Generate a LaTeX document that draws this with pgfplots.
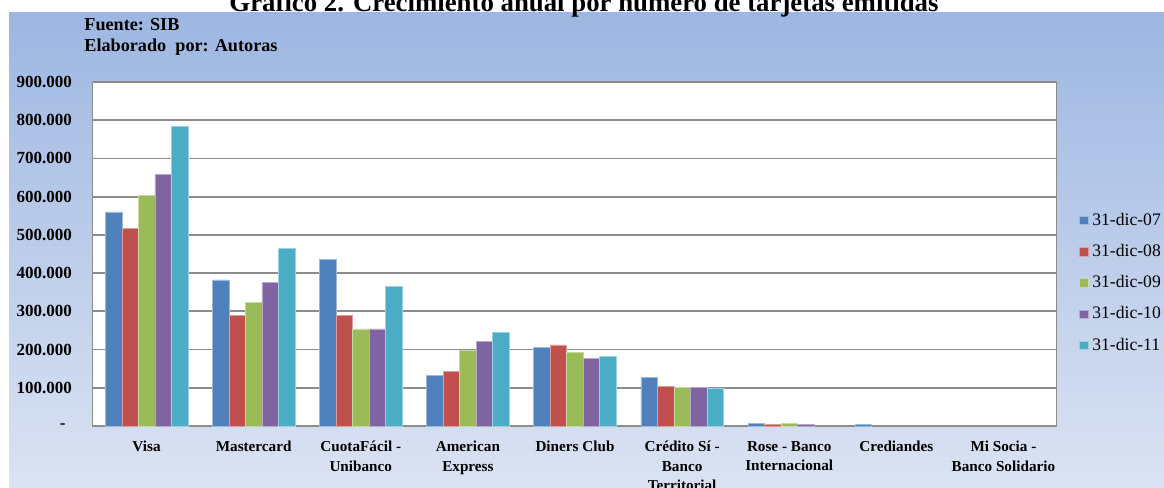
\documentclass[border=0pt]{standalone}
\usepackage{pgfplots}
\pgfplotsset{compat=1.18}
\usepackage{fontspec}
\setmainfont{Liberation Serif}
\definecolor{cA}{RGB}{79,129,189}
\definecolor{cB}{RGB}{192,80,77}
\definecolor{cC}{RGB}{155,187,89}
\definecolor{cD}{RGB}{128,100,162}
\definecolor{cE}{RGB}{75,172,198}
\definecolor{bgtop}{RGB}{157,183,226}
\definecolor{bgbot}{RGB}{219,227,242}
\definecolor{gridc}{RGB}{140,140,140}
\begin{document}
\begin{tikzpicture}
\useasboundingbox (0,0) rectangle (582pt,244pt);
\shade[top color=bgtop, bottom color=bgbot] (4.5pt,0) rectangle (582pt,237.5pt);
\node[anchor=base, font=\fontsize{13.4}{15}\selectfont\bfseries] at (292pt,238pt) {Gráfico 2. Crecimiento anual por número de tarjetas emitidas};
\node[anchor=base west, inner sep=0, font=\fontsize{9.1}{10}\selectfont\bfseries] at (42pt,228.5pt) {Fuente: SIB};
\node[anchor=base west, inner sep=0, font=\fontsize{9.1}{10}\selectfont\bfseries] at (42pt,218pt) {Elaborado\ \ por: Autoras};
\begin{axis}[
  at={(46.5pt,31pt)}, anchor=south west,
  scale only axis, width=482pt, height=172pt,
  xmin=-0.5, xmax=8.5, ymin=0, ymax=900000,
  scaled y ticks=false,
  axis background/.style={fill=white},
  axis line style={draw=gridc, line width=0.5pt},
  ybar=0pt, bar width=8.25pt,
  major tick length=0pt,
  ymajorgrids, major grid style={draw=gridc, line width=0.9pt},
  ytick={0,100000,200000,300000,400000,500000,600000,700000,800000,900000},
  yticklabels={{\makebox[6pt][l]{-}},100.000,200.000,300.000,400.000,500.000,600.000,700.000,800.000,900.000},
  yticklabel style={font=\fontsize{8.5}{10}\selectfont\bfseries, xshift=-7pt},
  xtick={0,1,2,3,4,5,6,7,8},
  xticklabels={Visa, Mastercard, {CuotaFácil -\\Unibanco}, {American\\Express}, Diners Club, {Crédito Sí -\\Banco\\Territorial}, {Rose - Banco\\Internacional}, Crediandes, {Mi Socia -\\Banco Solidario}},
  xticklabel style={font=\fontsize{7.6}{9.75}\selectfont\bfseries, align=center, yshift=-4pt},
  /pgf/number format/assume math mode=true,
  legend style={at={(1.0228,0.632)}, anchor=north west, draw=none, fill=none, font=\fontsize{8.8}{10}\selectfont, row sep=4pt, inner sep=0pt},
  legend cell align=left,
  legend image code/.code={\fill[#1] (0pt,-2pt) rectangle (4.2pt,2.2pt);},
]
\addplot[fill=cA, draw=cA!55!white, line width=0.3pt] coordinates {(0,560000) (1,382000) (2,435000) (3,133000) (4,206000) (5,127000) (6,7000) (7,4000)};
\addplot[fill=cB, draw=cB!55!white, line width=0.3pt] coordinates {(0,517000) (1,290000) (2,290000) (3,143000) (4,212000) (5,104000) (6,4000)};
\addplot[fill=cC, draw=cC!55!white, line width=0.3pt] coordinates {(0,603000) (1,323000) (2,254000) (3,199000) (4,193000) (5,100000) (6,7000)};
\addplot[fill=cD, draw=cD!55!white, line width=0.3pt] coordinates {(0,658000) (1,376000) (2,254000) (3,222000) (4,176000) (5,100000) (6,4000)};
\addplot[fill=cE, draw=cE!55!white, line width=0.3pt] coordinates {(0,784000) (1,464000) (2,365000) (3,245000) (4,183000) (5,98000)};
\legend{31-dic-07,31-dic-08,31-dic-09,31-dic-10,31-dic-11}
\end{axis}
\end{tikzpicture}
\end{document}
